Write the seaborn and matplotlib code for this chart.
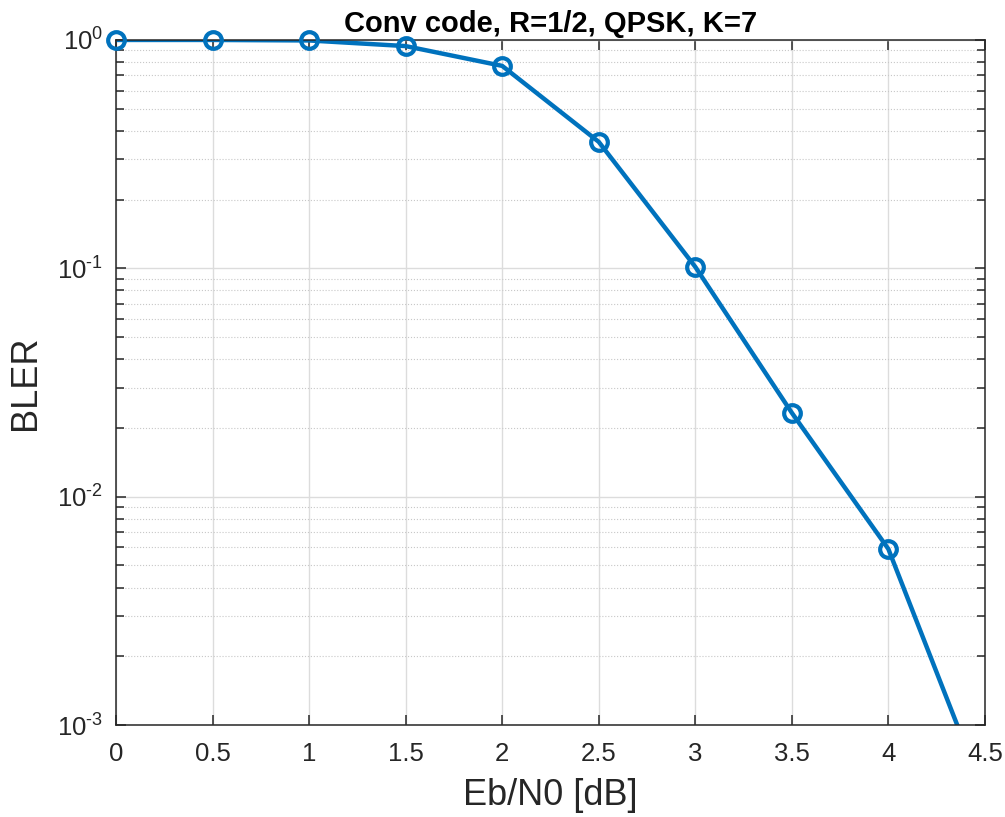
import numpy as np
import pandas as pd
import seaborn as sns
import matplotlib.pyplot as plt
from matplotlib.ticker import LogLocator, NullFormatter

# BLER values
ebn0_db = [0, 0.5, 1, 1.5, 2, 2.5, 3, 3.5, 4, 4.5]
bler = [1.0, 1.0, 0.995, 0.94, 0.77, 0.358, 0.1015, 0.0233, 0.0059, 0.00049]
x_ticks = [0, 0.5, 1, 1.5, 2, 2.5, 3, 3.5, 4, 4.5]
x_ticklabels = ["0", "0.5", "1", "1.5", "2", "2.5", "3", "3.5", "4", "4.5"]
y_ticks = [1e-3, 1e-2, 1e-1, 1]
y_ticklabels = [r"$10^{\text{-}3}$", r"$10^{\text{-}2}$", r"$10^{\text{-}1}$", r"$10^{0}$"]

df = pd.DataFrame({"EbN0": ebn0_db, "BLER": bler})
blue = "#0072BD"

sns.set_theme(style="white")
plt.rcParams['font.family'] = ['Liberation Sans', 'DejaVu Sans']
plt.rcParams['mathtext.fontset'] = 'custom'
plt.rcParams['mathtext.rm'] = 'Liberation Sans'
plt.rcParams['mathtext.it'] = 'Liberation Sans:italic'
plt.rcParams['mathtext.bf'] = 'Liberation Sans:bold'

fig = plt.figure(figsize=(10.05, 8.17), dpi=100)
ax = fig.add_axes([0.1154, 0.1126, 0.8646, 0.8385])

# line gets clipped by the axes, markers inside the range are drawn unclipped
sns.lineplot(data=df, x="EbN0", y="BLER", ax=ax, color=blue, linewidth=3.2)
inside = df[df["BLER"] >= 1e-3]
ax.plot(inside["EbN0"], inside["BLER"], linestyle="none", marker="o", markersize=12,
        markerfacecolor="none", markeredgecolor=blue, markeredgewidth=3.0,
        clip_on=False, zorder=5)

ax.set_yscale("log")
ax.set_xlim(0, 4.5)
ax.set_ylim(1e-3, 1)
ax.set_xticks(x_ticks)
ax.set_xticklabels(x_ticklabels)
ax.set_yticks(y_ticks)
ax.set_yticklabels(y_ticklabels)
ax.yaxis.set_minor_locator(LogLocator(base=10, subs=np.arange(2, 10), numticks=20))
ax.yaxis.set_minor_formatter(NullFormatter())

# matlab-ish grid and box
ax.grid(True, which="major", color="#dcdcdc", linewidth=1.0, linestyle="-")
ax.grid(True, which="minor", axis="y", color="#c8c8c8", linewidth=0.8, linestyle=":")
ax.set_axisbelow(True)
for s in ax.spines.values():
    s.set_visible(True)
    s.set_color("#262626")
    s.set_linewidth(1.1)
ax.tick_params(which="both", direction="in", top=True, right=True, bottom=True, left=True,
               color="#262626", width=1.1)
ax.tick_params(which="major", length=7, labelsize=18.5, labelcolor="#262626")
ax.tick_params(axis="x", which="major", pad=12)
ax.tick_params(axis="y", which="major", pad=9)
ax.tick_params(which="minor", length=6)

ax.set_xlabel("Eb/N0 [dB]", fontsize=26, color="#262626", labelpad=9)
ax.set_ylabel("BLER", fontsize=26, color="#262626", labelpad=10)
ax.set_title("Conv code, R=1/2, QPSK, K=7", fontsize=21, fontweight="bold",
             color="black", pad=6)

fig.savefig("out.png", dpi=100)
